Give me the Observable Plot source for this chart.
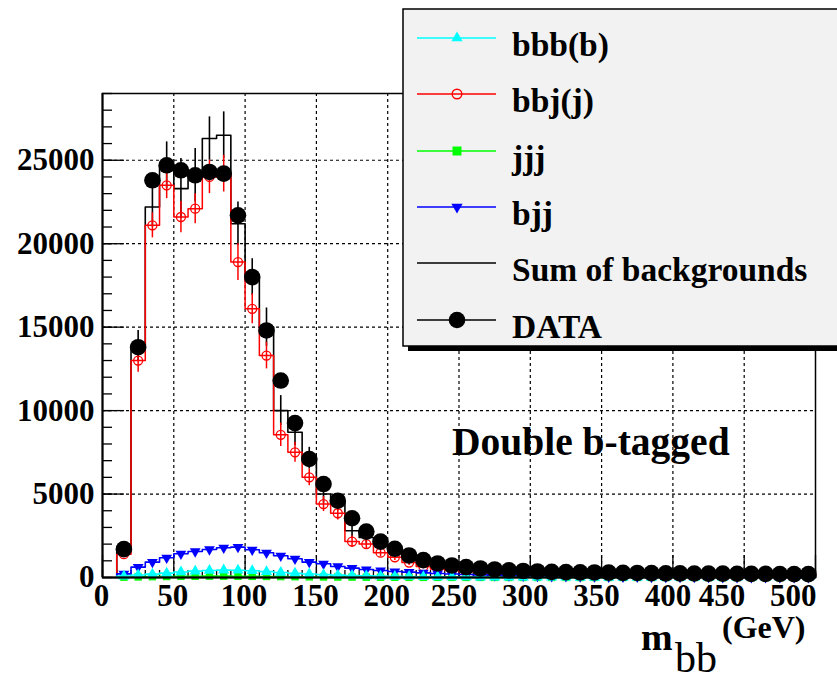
<!DOCTYPE html>
<html><head><meta charset="utf-8">
<script src="https://cdn.jsdelivr.net/npm/d3@7"></script>
<script src="https://cdn.jsdelivr.net/npm/@observablehq/plot@0.6"></script>
<style>
html,body{margin:0;padding:0;background:#fff;overflow:hidden;}
#wrap{position:relative;width:837px;height:675px;overflow:hidden;}
#wrap svg{position:absolute;left:0;top:0;}
</style></head><body>
<div id="wrap"></div>
<script>
// bin centres (GeV), 10 GeV bins from 10 to 500
const centers = d3.range(15, 500, 10);
const xMajor = [0, 50, 100, 150, 200, 250, 300, 350, 400, 450, 500];
const yMajor = [0, 5000, 10000, 15000, 20000, 25000];

const dataVals = [1700, 13800, 23800, 24700, 24400, 24100, 24300, 24200, 21700, 18000,
  14800, 11800, 9250, 7100, 5600, 4600, 3550, 2750, 2150, 1720,
  1320, 1040, 840, 720, 620, 540, 480, 430, 390, 360,
  340, 320, 310, 300, 290, 280, 270, 260, 250, 245,
  240, 235, 230, 225, 220, 215, 210, 205, 200];
const sumVals = [1700, 13900, 22200, 24700, 23300, 24100, 26300, 26500, 21200, 18000,
  15000, 10000, 8700, 7150, 5000, 4500, 2800, 2400, 2000, 1650,
  1280, 1000, 800, 680, 580, 500, 440, 390, 350, 320,
  300, 285, 270, 260, 250, 240, 230, 220, 212, 205,
  198, 192, 186, 180, 175, 170, 165, 160, 155];
const sumErr = [300, 900, 1200, 1400, 1800, 1600, 1300, 1400, 1300, 1100,
  1150, 900, 800, 650, 550, 500, 400, 350, 300, 250,
  200, 170, 140, 120, 100, 90, 80, 70, 60, 55,
  50, 48, 45, 43, 40, 38, 36, 34, 32, 30,
  29, 28, 27, 26, 25, 24, 23, 22, 21];
const bbjVals = [1400, 13000, 21100, 23500, 21600, 22100, 24000, 24200, 18900, 16100,
  13300, 8550, 7500, 6000, 4400, 3850, 2150, 2000, 1485, 1213,
  895, 666, 514, 431, 367, 318, 281, 255, 232, 217,
  210, 205, 200, 198, 195, 191, 186, 182, 178, 175,
  171, 167, 164, 160, 157, 154, 150, 147, 143];
const bbjErr = [200, 700, 750, 800, 950, 900, 1000, 1100, 1100, 900,
  800, 700, 600, 500, 450, 400, 350, 300, 250, 200,
  170, 140, 120, 100, 90, 80, 70, 65, 60, 55,
  52, 50, 48, 46, 44, 42, 40, 38, 37, 36,
  35, 34, 33, 32, 31, 30, 29, 28, 27];
const bjjVals = [220, 620, 920, 1180, 1420, 1560, 1680, 1780, 1820, 1660,
  1480, 1300, 1120, 920, 820, 660, 560, 480, 420, 360,
  320, 280, 240, 210, 180, 155, 135, 115, 100, 88,
  77, 68, 60, 53, 47, 42, 37, 33, 29, 26,
  23, 21, 19, 17, 15, 13, 12, 11, 10];
const bbbVals = [80, 150, 200, 260, 330, 380, 420, 440, 430, 400,
  350, 300, 250, 210, 170, 140, 115, 95, 80, 65,
  55, 45, 38, 32, 27, 22, 19, 16, 14, 12,
  10, 9, 8, 7, 6, 5, 5, 4, 4, 3,
  3, 3, 2, 2, 2, 2, 2, 1, 1];
const jjjVals = [20, 35, 50, 60, 70, 75, 80, 80, 75, 70,
  62, 55, 48, 40, 34, 28, 23, 19, 15, 12,
  10, 9, 8, 7, 6, 5, 5, 4, 4, 3,
  3, 3, 2, 2, 2, 2, 2, 1, 1, 1,
  1, 1, 1, 1, 1, 1, 1, 1, 1];

const rows = centers.map((c, i) => ({
  c, lo: c - 5,
  data: dataVals[i], sum: sumVals[i], sumErr: sumErr[i],
  bbj: bbjVals[i], bbjErr: bbjErr[i], bjj: bjjVals[i], bbb: bbbVals[i], jjj: jjjVals[i]
}));

function steps(key) {
  const pts = [{x: rows[0].lo, y: 0}];
  rows.forEach(r => pts.push({x: r.lo, y: r[key]}));
  pts.push({x: 500, y: rows[rows.length - 1][key]});
  pts.push({x: 500, y: 0});
  return pts;
}

const FONT = "Liberation Serif, Times New Roman, serif";
const grid = {stroke: "#000", strokeOpacity: 1, strokeWidth: 1.2, strokeDasharray: "3,3"};
const blank = () => "";
const lab = {anchor: "bottom", tickSize: 0, tickPadding: 6, label: null, fontSize: 31, fontWeight: "bold", tickFormat: d => String(d)};

const chart = Plot.plot({
  width: 837, height: 675,
  marginLeft: 102, marginRight: 22, marginTop: 93, marginBottom: 98,
  x: {domain: [0, 500]},
  y: {domain: [0, 29000]},
  style: {fontFamily: FONT, color: "#000", background: "transparent", overflow: "visible"},
  marks: [
    Plot.gridX(xMajor.slice(1, -1), grid),
    Plot.gridY(yMajor.slice(1), grid),
    // ticks (inward, ROOT style)
    Plot.axisX(d3.range(0, 501, 10), {anchor: "bottom", tickSize: -7, tickFormat: blank, label: null, strokeWidth: 1.3}),
    Plot.axisX(xMajor, {anchor: "bottom", tickSize: -22, tickFormat: blank, label: null, strokeWidth: 1.3}),
    Plot.axisY(d3.range(0, 29001, 1000), {anchor: "left", tickSize: -10, tickFormat: blank, label: null, strokeWidth: 1.3}),
    Plot.axisY(yMajor, {anchor: "left", tickSize: -22, tickFormat: blank, label: null, strokeWidth: 1.3}),
    // tick labels
    Plot.axisX(xMajor.slice(0, 5), {...lab, dx: -1}),
    Plot.axisX(xMajor.slice(5, 9), {...lab, dx: -5}),
    Plot.axisX(xMajor.slice(9), {...lab, textAnchor: "end", dx: 1}),
    Plot.axisY(yMajor, {anchor: "left", tickSize: 0, tickPadding: 8, label: null, fontSize: 31, fontWeight: "bold", tickFormat: d => String(d)}),
    // sum of backgrounds
    Plot.line(steps("sum"), {x: "x", y: "y", curve: "step-after", stroke: "#000", strokeWidth: 1.6}),
    Plot.ruleX(rows, {x: "c", y1: d => d.sum - d.sumErr, y2: d => d.sum + d.sumErr, stroke: "#000", strokeWidth: 1.6}),
    // bbj(j)
    Plot.line(steps("bbj"), {x: "x", y: "y", curve: "step-after", stroke: "#ff0000", strokeWidth: 1.5}),
    Plot.ruleX(rows, {x: "c", y1: d => d.bbj - d.bbjErr, y2: d => d.bbj + d.bbjErr, stroke: "#ff0000", strokeWidth: 1.5}),
    Plot.dot(rows, {x: "c", y: "bbj", r: 4.5, stroke: "#ff0000", fill: "none", strokeWidth: 1.3}),
    // jjj
    Plot.line(steps("jjj"), {x: "x", y: "y", curve: "step-after", stroke: "#00ff00", strokeWidth: 1.6}),
    Plot.dot(rows, {x: "c", y: "jjj", r: 4.2, symbol: "square", fill: "#00ff00", stroke: "none"}),
    // bjj
    Plot.line(steps("bjj"), {x: "x", y: "y", curve: "step-after", stroke: "#0000ff", strokeWidth: 1.6}),
    Plot.dot(rows, {x: "c", y: "bjj", r: 4, symbol: "triangle", rotate: 180, fill: "#0000ff", stroke: "none"}),
    // bbb(b)
    Plot.line(steps("bbb"), {x: "x", y: "y", curve: "step-after", stroke: "#00ffff", strokeWidth: 1.6}),
    Plot.dot(rows, {x: "c", y: "bbb", r: 4.2, symbol: "triangle", fill: "#00ffff", stroke: "none"}),
    // DATA
    Plot.dot(rows, {x: "c", y: "data", r: 8.3, fill: "#000", stroke: "none"}),
    // frame and axis lines
    Plot.frame({stroke: "#000", strokeWidth: 1.5}),
    Plot.ruleX([0], {stroke: "#000", strokeWidth: 2}),
    Plot.ruleY([0], {stroke: "#000", strokeWidth: 2})
  ]
});
document.getElementById("wrap").appendChild(chart);

// overlay: legend, annotation, axis title
const legendEntries = [
  {label: "bbb(b)", color: "#00ffff", sym: "triUp"},
  {label: "bbj(j)", color: "#ff0000", sym: "openCircle"},
  {label: "jjj", color: "#00ff00", sym: "square"},
  {label: "bjj", color: "#0000ff", sym: "triDown"},
  {label: "Sum of backgrounds", color: "#000", sym: "none"},
  {label: "DATA", color: "#000", sym: "bigDot"}
];
const ov = d3.create("svg").attr("width", 837).attr("height", 675)
  .style("font-family", FONT);
ov.append("text").attr("x", 452).attr("y", 455).attr("font-size", 39.5).attr("font-weight", "bold")
  .attr("fill", "#000").text("Double b-tagged");
ov.append("text").attr("x", 641).attr("y", 650).attr("font-size", 38).attr("font-weight", "bold").text("m");
ov.append("text").attr("x", 675).attr("y", 672).attr("font-size", 42).text("bb");
ov.append("text").attr("x", 722).attr("y", 638).attr("font-size", 32).attr("font-weight", "bold").text("(GeV)");

const lg = ov.append("g");
lg.append("rect").attr("x", 408).attr("y", 14).attr("width", 440).attr("height", 337).attr("fill", "#000");
lg.append("rect").attr("x", 403).attr("y", 9).attr("width", 440).attr("height", 337)
  .attr("fill", "#f2f2f2").attr("stroke", "#000").attr("stroke-width", 1.5);
const rowY = [38, 94, 151, 207, 263, 320];
legendEntries.forEach((e, i) => {
  const y = rowY[i];
  lg.append("line").attr("x1", 417).attr("x2", 496).attr("y1", y).attr("y2", y)
    .attr("stroke", e.color).attr("stroke-width", 1.5);
  const mx = 457;
  if (e.sym === "triUp" || e.sym === "triDown") {
    lg.append("path").attr("d", d3.symbol(d3.symbolTriangle, 55)())
      .attr("transform", `translate(${mx},${y}) rotate(${e.sym === "triDown" ? 180 : 0})`).attr("fill", e.color);
  } else if (e.sym === "openCircle") {
    lg.append("circle").attr("cx", mx).attr("cy", y).attr("r", 4.8).attr("fill", "none")
      .attr("stroke", e.color).attr("stroke-width", 1.4);
  } else if (e.sym === "square") {
    lg.append("rect").attr("x", mx - 4.5).attr("y", y - 4.5).attr("width", 9).attr("height", 9).attr("fill", e.color);
  } else if (e.sym === "bigDot") {
    lg.append("circle").attr("cx", mx).attr("cy", y).attr("r", 8.3).attr("fill", "#000");
  }
  lg.append("text").attr("x", 512).attr("y", y + 18).attr("font-size", 33.5).attr("font-weight", "bold")
    .attr("fill", "#000").text(e.label);
});
document.getElementById("wrap").appendChild(ov.node());
</script></body></html>
